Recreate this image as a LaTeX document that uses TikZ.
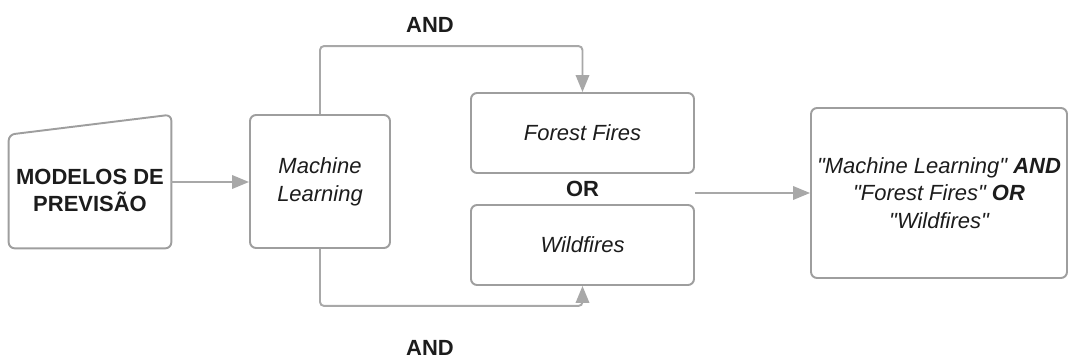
\documentclass[tikz,border=0pt]{standalone}
\usepackage{fontspec}
\setmainfont{Liberation Sans}[Ligatures=TeXOff]
\usetikzlibrary{arrows.meta,positioning,calc}
\definecolor{boxgray}{RGB}{158,158,158}
\definecolor{linegray}{RGB}{168,168,168}
\definecolor{txtdark}{RGB}{28,28,28}

\begin{document}
\begin{tikzpicture}[>={Triangle[length=0.34cm,width=0.27cm]}, x=0.02cm, y=-0.02cm,
  box/.style={draw=boxgray, line width=1.1pt, rounded corners=0.12cm, text=txtdark, align=center, font=\fontsize{12.5}{15.8}\selectfont},
  link/.style={draw=linegray, line width=1.1pt, ->, rounded corners=0.08cm},
  lbl/.style={text=txtdark, font=\fontsize{12.5}{15.8}\selectfont\bfseries}]
  \useasboundingbox (0,0) rectangle (1069,358);
  % manual input shape
  \node[minimum width=3.24cm, minimum height=2.66cm] (prev) at (90,181.5) {};
  \draw[box] ([yshift=-0.4cm]prev.north west) -- (prev.north east) -- (prev.south east) -- (prev.south west) -- cycle;
  \node[lbl, align=center] (prevtxt) at ([yshift=-0.18cm]prev.center) {MODELOS DE\\PREVISÃO};
  \node[box, minimum width=2.8cm, minimum height=2.66cm] (ml) at (320,181.5) {\itshape Machine\\\itshape Learning};
  \node[box, minimum width=4.46cm, minimum height=1.6cm] (ff) at (582.5,133) {\itshape Forest Fires};
  \node[box, minimum width=4.46cm, minimum height=1.6cm] (wf) at (582.5,245) {\itshape Wildfires};
  \node[lbl] (or) at ($(ff.south)!0.5!(wf.north)$) {OR};
  \node[box, minimum width=5.12cm, minimum height=3.4cm] (res) at (939,193) {\itshape "Machine Learning" \textbf{AND}\\\itshape "Forest Fires" \textbf{OR}\\\itshape "Wildfires"};
  \node[lbl] (andtop) at (430,25) {AND};
  \node[lbl] (andbot) at (430,348) {AND};
  \draw[link] (prev.east |- 0,182) -- (ml.west |- 0,182);
  \draw[link] (ml.north) -- ++(0,-68) -| (ff.north);
  \draw[link] (ml.south) -- ++(0,57) -| (wf.south);
  \draw[link] (res.west -| ff.east) -- (res.west);
\end{tikzpicture}
\end{document}
